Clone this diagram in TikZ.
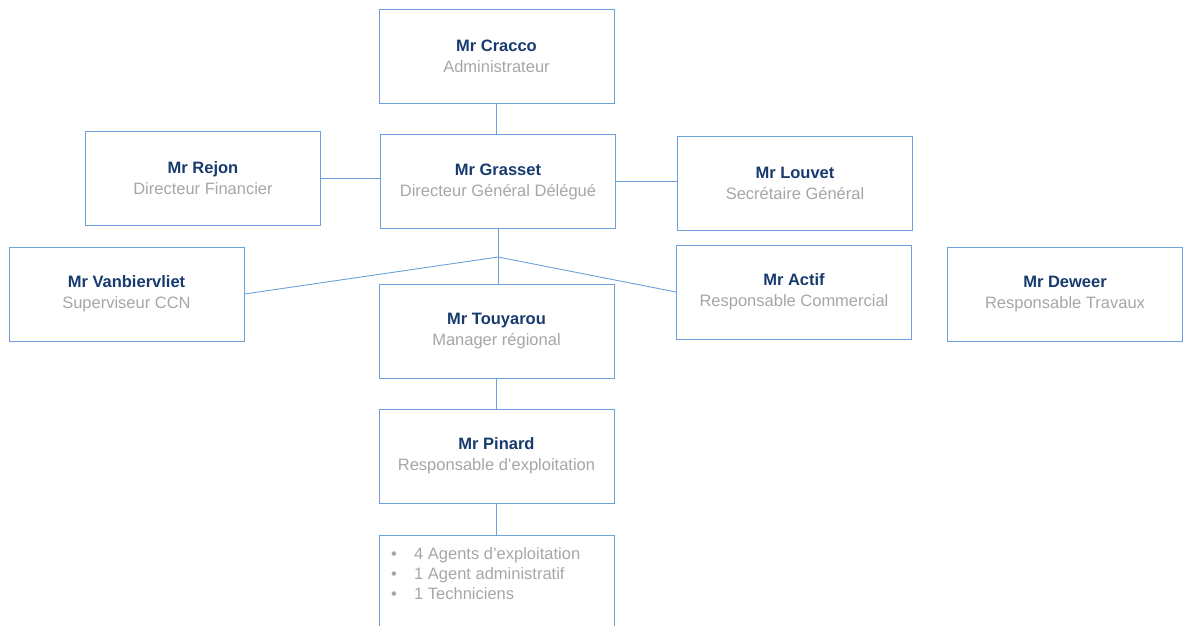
\documentclass[tikz,border=0pt]{standalone}
\usepackage{fontspec}
\setmainfont{Liberation Sans}
\definecolor{nombleu}{RGB}{23,59,110}
\definecolor{fonctiongris}{RGB}{166,166,166}
\definecolor{cadrebleu}{RGB}{108,160,218}
\newcommand{\poste}[2]{{\color{nombleu}\bfseries #1}\\{\color{fonctiongris}#2}}
\tikzset{
  postebox/.style={draw=cadrebleu, line width=1pt, minimum width=235pt, minimum height=94pt,
    inner sep=0pt, align=center, font=\fontsize{16.5}{21}\selectfont},
  lien/.style={draw=cadrebleu, line width=0.9pt}
}
\begin{document}
\begin{tikzpicture}[x=1pt,y=-1pt]
        \useasboundingbox (0,0) rectangle (1187,625);

        \node[postebox] (Cracco) at (496.5,56.5) {\poste{Mr Cracco}{Administrateur}};
        \node[postebox] (Rejon) at (203,178) {\poste{Mr Rejon}{Directeur Financier}};
        \node[postebox] (Grasset) at (498,181.5) {\poste{Mr Grasset}{Directeur Général Délégué}};
        \node[postebox] (Louvet) at (795,183) {\poste{Mr Louvet}{Secrétaire Général}};
        \node[postebox] (Vanbiervliet) at (126.5,294) {\poste{Mr Vanbiervliet}{Superviseur CCN}};
        \node[postebox] (Actif) at (794,292) {\poste{Mr Actif}{Responsable Commercial}};
        \node[postebox] (Deweer) at (1065,294) {\poste{Mr Deweer}{Responsable Travaux}};
        \node[postebox] (Touyarou) at (496.5,331) {\poste{Mr Touyarou}{Manager régional}};
        \node[postebox] (Pinard) at (496.5,456) {\poste{Mr Pinard}{Responsable d’exploitation}};
        \node[postebox, anchor=north] (equipe) at (496.5,535) {};
        \node[anchor=north west, inner sep=0pt, align=left, text=fonctiongris,
              font=\fontsize{16.5}{20}\selectfont] (equipeListe) at (391,547)
              {\makebox[23pt][l]{•}4 Agents d’exploitation\\
               \makebox[23pt][l]{•}1 Agent administratif\\
               \makebox[23pt][l]{•}1 Techniciens};

        \coordinate (fourche) at (498,257);

        \draw[lien] (Cracco.south) -- (Cracco.south |- Grasset.north);
        \draw[lien] (Rejon.east) -- (Rejon.east -| Grasset.west);
        \draw[lien] (Grasset.east) -- (Grasset.east -| Louvet.west);
        \draw[lien] (Grasset.south) -- (fourche);
        \draw[lien] (fourche) -- (Vanbiervliet.east);
        \draw[lien] (fourche) -- (Actif.west);
        \draw[lien] (fourche) -- (fourche |- Touyarou.north);
        \draw[lien] (Touyarou.south) -- (Pinard.north);
        \draw[lien] (Pinard.south) -- (equipe.north);
    \end{tikzpicture}
\end{document}
